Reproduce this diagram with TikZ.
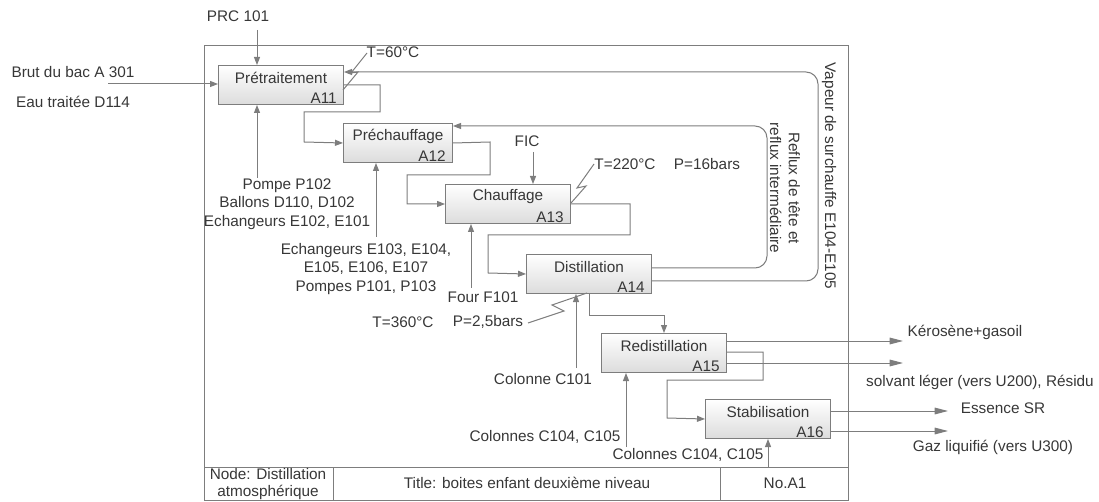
\documentclass[tikz,border=0pt]{standalone}
\usepackage{fontspec}
\setmainfont{Liberation Sans}
\usetikzlibrary{arrows.meta,calc}
\definecolor{linec}{RGB}{125,125,125}
\definecolor{textc}{RGB}{55,55,55}
\definecolor{boxg}{RGB}{220,220,220}
\begin{document}
\begin{tikzpicture}[x=0.75pt,y=-0.75pt,
  font=\fontsize{11.5pt}{13.9pt}\selectfont,
  box/.style={draw=linec, line width=0.75pt, top color=white, bottom color=boxg,
              minimum width=93.75pt, minimum height=29.25pt, inner sep=0pt, anchor=north west},
  ln/.style={draw=linec, line width=0.75pt},
  arr/.style={ln, -{Triangle[length=6pt,width=4.5pt]}},
  big/.style={ln, -{Triangle[length=10pt,width=5pt]}},
  txt/.style={text=textc, inner sep=0pt},
  ttl/.style={txt},
  ids/.style={txt, anchor=east}]
\useasboundingbox (0,0) rectangle (1099,502);

% frame and title bar
\draw[ln] (204,46) rectangle (848,500);
\draw[ln] (204,467) -- (848,467);
\draw[ln] (333,467) -- (333,500);
\draw[ln] (720,467) -- (720,500);
\node[txt, align=center, font=\fontsize{11.5pt}{12.75pt}\selectfont] (nodecell) at (268,484) {Node: Distillation\\atmosphérique};
\node[txt] (titlecell) at (527,483) {Title: boites enfant deuxième niveau};
\node[txt] (nocell) at (785,483) {No.A1};

% boxes
\node[box] (A11) at (218,65) {};
\node[box, minimum width=81.75pt] (A12) at (343,123) {};
\node[box] (A13) at (445,184) {};
\node[box] (A14) at (526,254) {};
\node[box] (A15) at (601,333) {};
\node[box] (A16) at (705,399) {};

\node[ttl] (A11t) at ($(A11.north)+(0,13)$) {Prétraitement};
\node[ids] (A11i) at ($(A11.south east)+(-7,-7)$) {A11};
\node[ttl] (A12t) at ($(A12.north)+(0,13)$) {Préchauffage};
\node[ids] (A12i) at ($(A12.south east)+(-7,-7)$) {A12};
\node[ttl] (A13t) at ($(A13.north)+(0,13)$) {Chauffage};
\node[ids] (A13i) at ($(A13.south east)+(-7,-7)$) {A13};
\node[ttl] (A14t) at ($(A14.north)+(0,13)$) {Distillation};
\node[ids] (A14i) at ($(A14.south east)+(-7,-7)$) {A14};
\node[ttl] (A15t) at ($(A15.north)+(0,13)$) {Redistillation};
\node[ids] (A15i) at ($(A15.south east)+(-7,-7)$) {A15};
\node[ttl] (A16t) at ($(A16.north)+(0,13)$) {Stabilisation};
\node[ids] (A16i) at ($(A16.south east)+(-7,-7)$) {A16};

% A11 inputs
\node[txt] (prc) at (238,16) {PRC 101};
\coordinate (prcS) at (257,30);
\draw[arr] (prcS) -- (prcS |- A11.north);
\node[txt] (brut) at (73,72) {Brut du bac A 301};
\node[txt] (eau) at (73,102) {Eau traitée D114};
\coordinate (brutS) at (108,84);
\draw[arr] (brutS) -- (brutS -| A11.west);
\node[txt, align=center] (pompe) at (287,204) {Pompe P102\\Ballons D110, D102\\Echangeurs E102, E101};
\coordinate (pS) at (257,178);
\draw[arr] (pS) -- (pS |- A11.south);
\node[txt] (t60) at (393,52) {T=60°C};
\draw[ln] (343,90) -- (358,72) -- (351,73) -- (367,53);

% A11 -> A12
\draw[arr] (A11.east) -- (380,85) -- (380,112) -- (304,112) -- (304,142) -- (A12.west);

% A12 mechanism
\node[txt, align=center] (ech) at (366,269) {Echangeurs E103, E104,\\E105, E106, E107\\Pompes P101, P103};
\coordinate (eS) at (376,237);
\draw[arr] (eS) -- (eS |- A12.south);

% A12 -> A13
\draw[arr] (A12.east) -- (490,142) -- (490,175) -- (407,175) -- (407,204) -- (A13.west);

% A13 control
\node[txt] (fic) at (527,141) {FIC};
\coordinate (ficS) at (533,152);
\draw[arr] (ficS) -- (ficS |- A13.north);
\node[txt] (t220) at (625,164) {T=220°C};
\node[txt] (p16) at (707,164) {P=16bars};
\draw[ln] (571,203) -- (586,186) -- (577,188) -- (594,164);

% A13 mechanism
\node[txt] (four) at (483,297) {Four F101};
\coordinate (fS) at (471,288);
\draw[arr] (fS) -- (fS |- A13.south);

% A13 -> A14
\draw[arr] (A13.east) -- (630,204) -- (630,235) -- (488,235) -- (488,273) -- (A14.west);

% A14 annotations
\node[txt] (t360) at (403,322) {T=360°C};
\node[txt] (p25) at (488,322) {P=2,5bars};
\draw[ln] (528,323) -- (564,311) -- (552,305) -- (587,293);
\node[txt] (c101) at (543,379) {Colonne C101};
\coordinate (c101S) at (576,368);
\draw[arr] (c101S) -- (c101S |- A14.south);

% feedback loops
\draw[arr, rounded corners=9pt] ($(A14.north east)+(0,14)$) -- (767,268) -- (767,126) -- ($(A12.north east)+(0,3)$);
\node[txt, rotate=-90, align=center] (reflux) at (785,188) {Reflux de tête et\\reflux intermédiaire};
\draw[arr, rounded corners=9pt] ($(A14.north east)+(0,27)$) -- (818,281) -- (818,72) -- ($(A11.north east)+(0,7)$);
\node[txt, rotate=-90] (vapeur) at (829,176) {Vapeur de surchauffe E104-E105};

% A14 -> A15
\draw[arr] (A14.south) -- ++(0,21) -| (A15.north);

% A15 outputs
\draw[big] ($(A15.north east)+(0,8)$) -- (903,341);
\node[txt] (kero) at (965,332) {Kérosène+gasoil};
\draw[big] ($(A15.north east)+(0,30)$) -- (903,363);
\node[txt] (solv) at (980,382) {solvant léger (vers U200), Résidu};
\draw[arr] ($(A15.north east)+(0,19)$) -- (763,352) -- (763,380) -- (667,380) -- (667,418) -- (A16.west);

% A15 mechanism
\node[txt] (c104a) at (545,437) {Colonnes C104, C105};
\coordinate (c104aS) at (626,447);
\draw[arr] (c104aS) -- (c104aS |- A15.south);

% A16 outputs
\draw[big] ($(A16.north east)+(0,12)$) -- (948,411);
\node[txt] (ess) at (1003,408) {Essence SR};
\draw[big] ($(A16.north east)+(0,32)$) -- (948,431);
\node[txt] (gaz) at (993,447) {Gaz liquifié (vers U300)};

% A16 mechanism
\node[txt] (c104b) at (688,455) {Colonnes C104, C105};
\coordinate (c104bS) at (768,467);
\draw[arr] (c104bS) -- (c104bS |- A16.south);
\end{tikzpicture}
\end{document}
